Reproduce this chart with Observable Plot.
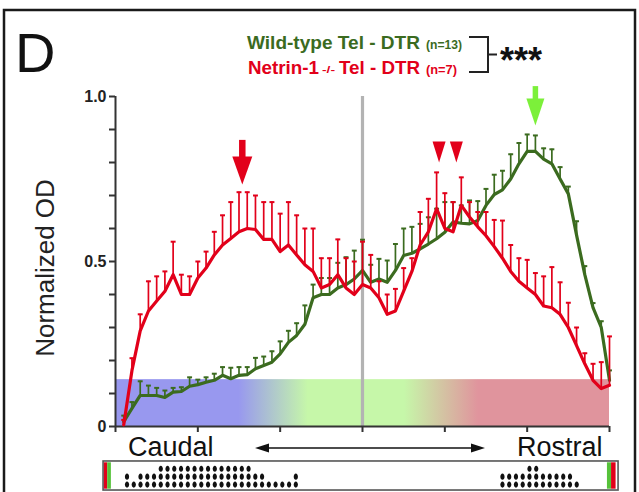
<!DOCTYPE html>
<html><head><meta charset="utf-8">
<script src="https://cdn.jsdelivr.net/npm/d3@7"></script>
<script src="https://cdn.jsdelivr.net/npm/@observablehq/plot@0.6"></script>
<style>
body{margin:0;background:#fff;}
#chart{width:639px;height:492px;overflow:hidden;}
</style></head><body><div id="chart"></div>
<script>
// ---- data (bins 1..60 along the caudal-rostral axis) ----
const bins = d3.range(1, 61);
const wildType = [0.015,0.055,0.094,0.094,0.094,0.088,0.104,0.106,0.122,0.127,
  0.134,0.14,0.155,0.145,0.155,0.157,0.175,0.185,0.195,0.22,
  0.255,0.276,0.31,0.39,0.40,0.40,0.42,0.43,0.447,0.473,
  0.437,0.447,0.437,0.473,0.518,0.525,0.538,0.553,0.569,0.589,
  0.62,0.616,0.614,0.624,0.67,0.703,0.717,0.75,0.796,0.834,
  0.834,0.81,0.796,0.75,0.705,0.58,0.46,0.36,0.30,0.14];
const wildTypeErrTop = [0.033,0.074,0.137,0.124,0.117,0.109,0.117,0.119,0.149,0.142,
  0.149,0.16,0.18,0.178,0.18,0.18,0.208,0.212,0.228,0.258,
  0.29,0.313,0.367,0.43,0.45,0.45,0.496,0.513,0.533,0.566,
  0.49,0.508,0.503,0.553,0.60,0.605,0.614,0.634,0.66,0.68,
  0.68,0.67,0.685,0.683,0.72,0.763,0.775,0.825,0.859,0.885,
  0.882,0.843,0.84,0.786,0.727,0.622,0.486,0.374,0.319,0.17];
const netrin = [0.005,0.17,0.29,0.35,0.38,0.41,0.46,0.40,0.40,0.45,
  0.48,0.52,0.55,0.57,0.59,0.60,0.597,0.567,0.567,0.53,
  0.55,0.52,0.49,0.47,0.42,0.43,0.46,0.42,0.40,0.43,
  0.42,0.39,0.34,0.35,0.41,0.47,0.55,0.59,0.66,0.60,
  0.59,0.67,0.635,0.605,0.578,0.545,0.51,0.47,0.44,0.42,
  0.40,0.365,0.36,0.34,0.30,0.245,0.19,0.14,0.115,0.125];
const netrinErrTop = [0.02,0.207,0.34,0.44,0.455,0.47,0.56,0.46,0.455,0.50,
  0.53,0.59,0.64,0.68,0.71,0.71,0.70,0.68,0.68,0.645,
  0.68,0.64,0.60,0.60,0.51,0.51,0.567,0.51,0.50,0.56,
  0.52,0.44,0.40,0.417,0.48,0.51,0.65,0.69,0.77,0.707,
  0.68,0.755,0.68,0.65,0.65,0.626,0.624,0.55,0.51,0.505,
  0.465,0.455,0.483,0.437,0.375,0.30,0.222,0.19,0.195,0.273];

const xTicks = [0,10,20,30,40,50,60];
const yTicks = [0,0.1,0.2,0.3,0.4,0.5,0.6,0.7,0.8,0.9,1.0];
const yTickLabels = {"0":"0","0.5":"0.5","1":"1.0"};
const midline = [30];

// markers: arrows and arrowheads (bin, shaft top, shaft bottom, head centre)
const arrows = [
  {bin:15.4, top:0.867, bottom:0.81, head:0.776, w:20, h:28, color:"#e2001a", sw:6.5},
  {bin:51.0, top:1.03, bottom:0.985, head:0.953, w:18, h:27, color:"#7cf03a", sw:5.5}
];
const triangles = [{bin:39.3, y:0.832}, {bin:41.4, y:0.832}];

// dot strip (counts per column, stacked from bottom row)
const caudalDotCounts = [2,1,2,2,2,3,3,3,3,3,3,3,3,3,3,3,3,3,3,2,2,1,1,1,1,2];
const rostralDotCounts = [2,2,2,2,3,3,2,2,2,2,2,1];
const caudalDotStart = 1.4, rostralDotStart = 47.0, dotStep = 0.82;
const dotRows = [-0.176, -0.152, -0.128];

const bandStops = [[0,"#9898ef"],[0.25,"#9898ef"],[0.39,"#c6f7a9"],[0.585,"#c6f7a9"],[0.735,"#e0949d"],[1,"#e0949d"]];

const GREEN = "#3b6b1f", RED = "#e2001a";

const data = bins.map((b,k)=>({bin:b, wt:wildType[k], wtE:wildTypeErrTop[k], ne:netrin[k], neE:netrinErrTop[k]}));
const dots = [];
caudalDotCounts.forEach((c,k)=>{ for(let r=0;r<c;r++) dots.push({x:caudalDotStart+k*dotStep, y:dotRows[r]}); });
rostralDotCounts.forEach((c,k)=>{ for(let r=0;r<c;r++) dots.push({x:rostralDotStart+k*dotStep, y:dotRows[r]}); });

const svgNS = "http://www.w3.org/2000/svg";
function el(tag, attrs, parent){ const e=document.createElementNS(svgNS, tag); for (const k in attrs) e.setAttribute(k, attrs[k]); if(parent) parent.appendChild(e); return e; }

const defsMark = () => {
  const defs = el("defs", {});
  const g = el("linearGradient", {id:"bandGrad", x1:"0", x2:"1", y1:"0", y2:"0"}, defs);
  bandStops.forEach(([o,c]) => el("stop", {offset:o, "stop-color":c}, g));
  return defs;
};
const downTri = (w,h) => ({draw(ctx){ ctx.moveTo(-w/2,-h/2); ctx.lineTo(w/2,-h/2); ctx.lineTo(0,h/2); ctx.closePath(); }});
const ellipse = (w,h) => ({draw(ctx){ const k=0.5523; const a=w/2,b=h/2;
  ctx.moveTo(a,0); ctx.bezierCurveTo(a,b*k,a*k,b,0,b); ctx.bezierCurveTo(-a*k,b,-a,b*k,-a,0);
  ctx.bezierCurveTo(-a,-b*k,-a*k,-b,0,-b); ctx.bezierCurveTo(a*k,-b,a,-b*k,a,0); ctx.closePath(); }});

const stripBox = [{x1:-1.45, x2:61.1, y1:-0.106, y2:-0.194}];
const endBars = [
  {x1:-1.35, x2:-0.95, fill:RED}, {x1:-0.95, x2:-0.5, fill:"#56c23a"},
  {x1:59.75, x2:60.25, fill:"#56c23a"}, {x1:60.25, x2:60.8, fill:RED}
];

const plot = Plot.plot({
  width:639, height:492,
  marginLeft:115, marginRight:30, marginTop:96, marginBottom:66,
  x:{domain:[0,60]},
  y:{domain:[0,1]},
  style:{fontFamily:"Liberation Sans, Arial, sans-serif", background:"#fff", overflow:"visible"},
  marks:[
    defsMark,
    Plot.rect([0], {x1:()=>0, x2:()=>60, y1:()=>0, y2:()=>0.142, fill:"url(#bandGrad)"}),
    Plot.ruleX(midline, {y1:0, y2:1, stroke:"#b3b3b3", strokeWidth:3.2}),
    Plot.axisX({ticks:xTicks, tickSize:6, tickFormat:()=>"", label:null, stroke:"#333", strokeWidth:2}),
    Plot.axisY({ticks:yTicks, tickSize:6, tickPadding:3, tickFormat:d=>yTickLabels[String(+d.toFixed(2))] ?? "", label:null,
      fontSize:16, fontWeight:"bold", fill:"#222", stroke:"#333", strokeWidth:2}),
    Plot.ruleX([0], {y1:0, y2:1, stroke:"#333", strokeWidth:2}),
    Plot.ruleY([0], {x1:0, x2:60, stroke:"#333", strokeWidth:2}),
    // wild-type
    Plot.ruleX(data, {x:"bin", y1:"wt", y2:"wtE", stroke:GREEN, strokeWidth:1.7}),
    Plot.link(data, {x1:d=>d.bin-0.3, x2:d=>d.bin+0.3, y1:"wtE", y2:"wtE", stroke:GREEN, strokeWidth:2}),
    Plot.line(data, {x:"bin", y:"wt", stroke:GREEN, strokeWidth:3.2, strokeLinejoin:"round", strokeLinecap:"round"}),
    // netrin
    Plot.ruleX(data, {x:"bin", y1:"ne", y2:"neE", stroke:RED, strokeWidth:1.7}),
    Plot.link(data, {x1:d=>d.bin-0.3, x2:d=>d.bin+0.3, y1:"neE", y2:"neE", stroke:RED, strokeWidth:2}),
    Plot.line(data, {x:"bin", y:"ne", stroke:RED, strokeWidth:3.2, strokeLinejoin:"round", strokeLinecap:"round"}),
    // markers
    Plot.ruleX(arrows, {x:"bin", y1:"top", y2:"bottom", stroke:"color", strokeWidth:"sw"}),
    ...arrows.map(a => Plot.dot([a], {x:"bin", y:"head", r:10, symbol:downTri(a.w,a.h), fill:a.color, stroke:null})),
    Plot.dot(triangles, {x:"bin", y:"y", r:8, symbol:downTri(13,21), fill:RED, stroke:null}),
    // strip
    Plot.rect(stripBox, {x1:"x1", x2:"x2", y1:"y1", y2:"y2", fill:"#fff", stroke:"#555", strokeWidth:1.6}),
    Plot.rect(endBars, {x1:"x1", x2:"x2", y1:()=>-0.11, y2:()=>-0.19, fill:"fill"}),
    Plot.dot(dots, {x:"x", y:"y", r:3, symbol:ellipse(4.2,6.2), fill:"#111", stroke:null})
  ]
});
document.getElementById("chart").appendChild(plot);

const FONT = "Liberation Sans, Arial, sans-serif";
const svg = d3.select(plot);
const deco = svg.append("g").attr("text-anchor","start").attr("font-family",FONT);
deco.append("rect").attr("x",4).attr("y",10).attr("width",631).attr("height",495)
  .attr("fill","none").attr("stroke","#1a1a1a").attr("stroke-width",2.5);
deco.append("text").attr("x",15).attr("y",72).attr("font-size",56).attr("fill","#111").text("D");

const leg = deco.append("g").attr("font-family","Liberation Sans Narrow, Liberation Sans, Arial, sans-serif").attr("font-weight","bold");
const l1 = leg.append("text").attr("y",49).attr("fill",GREEN);
l1.append("tspan").attr("x",247).attr("font-size",18).attr("textLength",173).attr("lengthAdjust","spacingAndGlyphs").text("Wild-type Tel - DTR");
l1.append("tspan").attr("x",426).attr("font-size",12).attr("textLength",36).attr("lengthAdjust","spacingAndGlyphs").text("(n=13)");
const l2 = leg.append("text").attr("y",74).attr("fill",RED);
l2.append("tspan").attr("x",248).attr("font-size",18).attr("textLength",71).attr("lengthAdjust","spacingAndGlyphs").text("Netrin-1");
l2.append("tspan").attr("x",322).attr("dy",-1).attr("font-size",9).attr("textLength",13).attr("lengthAdjust","spacingAndGlyphs").text("-/-");
l2.append("tspan").attr("x",339).attr("dy",1).attr("font-size",18).attr("textLength",81).attr("lengthAdjust","spacingAndGlyphs").text("Tel - DTR");
l2.append("tspan").attr("x",426).attr("font-size",12).attr("textLength",31).attr("lengthAdjust","spacingAndGlyphs").text("(n=7)");
deco.append("path").attr("d","M469,37H488V72H469M488,54.5H497").attr("fill","none").attr("stroke","#222").attr("stroke-width",2);
deco.append("text").attr("x",500).attr("y",73).attr("font-size",36).attr("font-weight","bold").attr("fill","#111").text("***");

deco.append("text").attr("transform","translate(54,268) rotate(-90)").attr("text-anchor","middle")
  .attr("font-size",26).attr("fill","#222").text("Normalized OD");

const lab = deco.append("g").attr("font-size",27).attr("fill","#111");
lab.append("text").attr("x",128).attr("y",456).text("Caudal");
lab.append("text").attr("x",517).attr("y",456).text("Rostral");
deco.append("path").attr("d","M267,448H473").attr("stroke","#111").attr("stroke-width",1.6);
deco.append("path").attr("d","M255,448L269,443.5L269,452.5Z M485,448L471,443.5L471,452.5Z").attr("fill","#111");
</script>
</body></html>
